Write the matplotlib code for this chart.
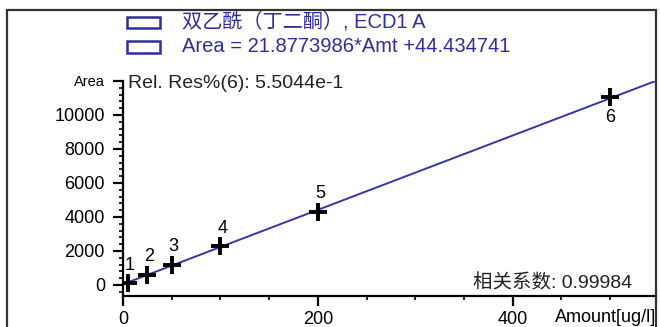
import numpy as np
import matplotlib
matplotlib.use('Agg')
from matplotlib import pyplot as plt
from matplotlib.patches import Rectangle
from matplotlib.ticker import MultipleLocator, FuncFormatter

plt.rcParams['font.family'] = ['Liberation Sans', 'Noto Sans CJK SC', 'DejaVu Sans']

# calibration points
amounts = [5, 25, 50, 100, 200, 500]
areas = [100, 590, 1180, 2290, 4300, 11050]
point_labels = ['1', '2', '3', '4', '5', '6']

slope = 21.8773986
intercept = 44.434741
rel_res = '5.5044e-1'
corr = '0.99984'
compound = '双乙酰（丁二酮）, ECD1 A'
y_name = 'Area'
x_name = 'Amount[ug/l]'

W, H = 660, 327
fig = plt.figure(figsize=(W / 100, H / 100), dpi=100)


def fx(px):
    return px / W


def fy(py):
    return 1 - py / H


ax = fig.add_axes([fx(123), fy(296), fx(656) - fx(123), fy(81) - fy(296)])
ax.set_xlim(0, 547)
ax.set_ylim(-650, 12000)

line_color = '#3636a6'
xs = np.array([0, 547])
ax.plot(xs, slope * xs + intercept, color=line_color, lw=1.4, zorder=2)

ax.plot(amounts, areas, linestyle='none', marker='+', markersize=13,
        markeredgewidth=2.8, color='black', zorder=3)

for i, (a, v, t) in enumerate(zip(amounts, areas, point_labels)):
    if i == len(amounts) - 1:
        ax.annotate(t, (a, v), xytext=(0, -20), textcoords='offset pixels',
                    ha='center', va='center', fontsize=13)
    else:
        ax.annotate(t, (a, v), xytext=(2, 18), textcoords='offset pixels',
                    ha='center', va='center', fontsize=13)

for s in ['top', 'right']:
    ax.spines[s].set_visible(False)
for s in ['left', 'bottom']:
    ax.spines[s].set_linewidth(1.6)

ax.xaxis.set_major_locator(MultipleLocator(200))
ax.xaxis.set_minor_locator(MultipleLocator(50))
ax.yaxis.set_major_locator(MultipleLocator(2000))
ax.yaxis.set_minor_locator(MultipleLocator(400))
ax.yaxis.set_major_formatter(FuncFormatter(lambda v, p: y_name if v >= 12000 else '%d' % v))
ax.tick_params(which='major', length=7.5, width=1.6, labelsize=13)
ax.tick_params(which='minor', length=3, width=1.2)
ax.tick_params(axis='y', pad=5.5)
ax.tick_params(axis='x', pad=3)
for lab in ax.get_yticklabels():
    if lab.get_text() == y_name:
        lab.set_fontsize(10.5)

fig.text(fx(128), fy(83), 'Rel. Res%(6): ' + rel_res, ha='left', va='center',
         fontsize=14, color='#222222')
fig.text(fx(632), fy(283), '相关系数: ' + corr, ha='right', va='center',
         fontsize=14, color='#222222')
fig.text(fx(555), fy(317), x_name, ha='left', va='center', fontsize=13)

# legend header
leg_color = '#2e2e9c'
for ty, txt in [(22, compound), (47, 'Area = ' + str(slope) + '*Amt +' + str(intercept))]:
    fig.add_artist(Rectangle((fx(127), fy(ty + 5.5)), fx(160) - fx(127), fy(ty - 5.5) - fy(ty + 5.5),
                             fill=False, edgecolor=leg_color, lw=1.8, transform=fig.transFigure))
    fig.text(fx(182), fy(ty), txt, ha='left', va='center', fontsize=14.5, color=leg_color)

# outer frame
fig.add_artist(Rectangle((fx(7), fy(340)), fx(656) - fx(7), fy(10) - fy(340),
                         fill=False, edgecolor='#333333', lw=1.6, transform=fig.transFigure))

fig.savefig('out.png', dpi=100)
